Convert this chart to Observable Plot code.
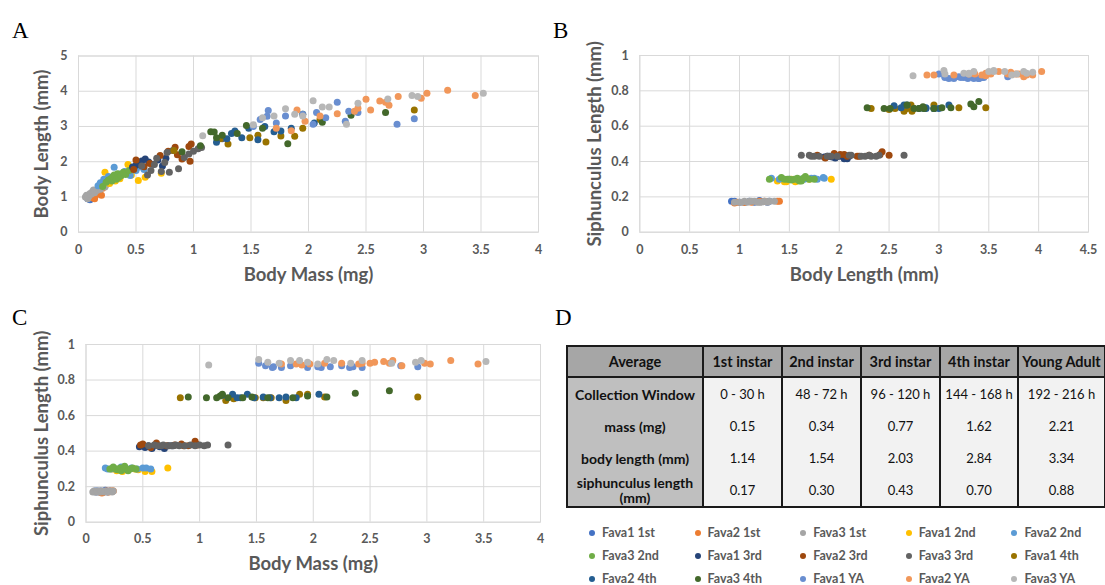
<!DOCTYPE html>
<html><head><meta charset="utf-8">
<script src="https://cdn.jsdelivr.net/npm/d3@7"></script>
<script src="https://cdn.jsdelivr.net/npm/@observablehq/plot@0.6"></script>
<style>
html,body{margin:0;padding:0;background:#fff;}
#root{position:relative;width:1105px;height:585px;overflow:hidden;font-family:Lato,"Open Sans",sans-serif;}
.panel{position:absolute;}
.panel svg{display:block;overflow:visible;}
.letter{position:absolute;font-family:"Liberation Serif","Times New Roman",serif;font-size:23px;color:#000;line-height:23px;}
#tbl{position:absolute;left:566px;top:345px;width:538px;border-collapse:collapse;table-layout:fixed;font-size:14px;color:#111;font-family:Lato,sans-serif;}
#tbl td,#tbl th{border-left:2px solid #1a1a1a;border-right:2px solid #1a1a1a;padding:0;text-align:center;vertical-align:middle;white-space:nowrap;}
#tbl th{background:#a6a6a6;height:29px;border-top:2px solid #1a1a1a;border-bottom:2px solid #1a1a1a;font-weight:700;font-size:14.5px;}
#tbl td{height:32px;}
#tbl td.lab{background:#bfbfbf;font-weight:700;}
#tbl td.val{background:#f2f2f2;font-size:13px;}
#tbl tr:last-child td{border-bottom:2px solid #1a1a1a;height:32px;}
#tbl .wrap{line-height:15px;white-space:normal;}
#legend{position:absolute;left:589px;top:521px;display:grid;grid-template-columns:repeat(5,105.6px);grid-auto-rows:23px;font-size:12.5px;font-weight:700;color:#595959;}
#legend .item{display:flex;align-items:center;white-space:nowrap;}
#legend .dot{width:6px;height:6px;border-radius:50%;margin-right:7px;flex:none;}
</style>
</head><body>
<div id="root">
  <div class="letter" style="left:12px;top:19px;">A</div>
  <div class="letter" style="left:553px;top:19px;">B</div>
  <div class="letter" style="left:12px;top:306px;">C</div>
  <div class="letter" style="left:555px;top:306px;">D</div>
  <div class="panel" id="pA" style="left:0px;top:30px;"></div>
  <div class="panel" id="pB" style="left:550px;top:30px;"></div>
  <div class="panel" id="pC" style="left:0px;top:320px;"></div>
  <table id="tbl"></table>
  <div id="legend"></div>
</div>
<script>
// ---------- series ----------
const seriesNames = ["Fava1 1st","Fava2 1st","Fava3 1st","Fava1 2nd","Fava2 2nd","Fava3 2nd","Fava1 3rd","Fava2 3rd","Fava3 3rd","Fava1 4th","Fava2 4th","Fava3 4th","Fava1 YA","Fava2 YA","Fava3 YA"];
const seriesColors = ["#4472C4","#ED7D31","#A5A5A5","#FFC000","#5B9BD5","#70AD47","#264478","#9E480E","#636363","#997300","#255E91","#43682B","#698ED0","#F1975A","#B7B7B7"];

// each point: [body mass (mg), body length (mm), siphunculus length (mm)]
const fava1_1st = [[0.08,0.95,0.175],[0.09,1.00,0.17],[0.10,0.92,0.175],[0.12,1.05,0.17],[0.13,1.10,0.175],[0.15,1.15,0.17],[0.17,1.20,0.18],[0.19,1.28,0.17],[0.21,1.30,0.175]];
const fava2_1st = [[0.12,0.98,0.17],[0.14,0.95,0.165],[0.15,1.05,0.17],[0.16,1.12,0.17],[0.18,1.20,0.175],[0.20,1.05,0.17],[0.21,1.25,0.175],[0.23,1.38,0.175],[0.24,1.40,0.175]];
const fava3_1st = [[0.06,1.00,0.17],[0.07,1.05,0.175],[0.08,0.95,0.17],[0.09,1.02,0.17],[0.10,1.10,0.175],[0.11,1.08,0.17],[0.12,1.15,0.175],[0.13,1.20,0.17],[0.14,1.12,0.175],[0.16,1.18,0.17],[0.17,1.25,0.175],[0.19,1.22,0.17],[0.21,1.30,0.175],[0.23,1.28,0.17],[0.24,1.35,0.175]];
const fava1_2nd = [[0.23,1.70,0.30],[0.27,1.38,0.29],[0.32,1.45,0.285],[0.36,1.52,0.30],[0.43,1.92,0.30],[0.46,1.62,0.295],[0.52,1.47,0.285],[0.58,1.56,0.285],[0.72,1.67,0.305]];
const fava2_2nd = [[0.17,1.32,0.305],[0.19,1.40,0.30],[0.22,1.50,0.30],[0.26,1.58,0.30],[0.31,1.84,0.31],[0.36,1.65,0.30],[0.40,1.72,0.305],[0.45,1.61,0.30],[0.50,1.75,0.305],[0.53,1.85,0.305],[0.57,1.78,0.30]];
const fava3_2nd = [[0.21,1.30,0.30],[0.24,1.42,0.31],[0.26,1.48,0.30],[0.28,1.52,0.295],[0.29,1.45,0.30],[0.30,1.58,0.305],[0.31,1.62,0.29],[0.33,1.50,0.30],[0.34,1.66,0.315],[0.35,1.55,0.30],[0.37,1.60,0.29],[0.39,1.70,0.30],[0.41,1.64,0.305],[0.44,1.75,0.30]];
const fava1_3rd = [[0.47,1.85,0.425],[0.50,1.90,0.43],[0.52,1.96,0.42],[0.55,2.02,0.43],[0.58,2.08,0.415],[0.61,1.99,0.43],[0.65,1.93,0.425],[0.69,2.05,0.415],[0.73,1.88,0.43],[0.76,2.10,0.43]];
const fava2_3rd = [[0.48,1.78,0.435],[0.50,2.05,0.44],[0.57,1.86,0.42],[0.62,1.95,0.445],[0.71,2.18,0.43],[0.78,2.30,0.435],[0.84,2.41,0.44],[0.86,2.20,0.43],[0.90,2.08,0.43],[0.96,2.43,0.455],[0.97,2.01,0.44],[0.98,2.50,0.435]];
const fava3_3rd = [[0.55,1.88,0.43],[0.60,1.62,0.435],[0.63,1.75,0.43],[0.66,1.92,0.43],[0.68,2.10,0.435],[0.72,1.72,0.43],[0.75,1.98,0.43],[0.77,2.26,0.43],[0.79,1.70,0.435],[0.82,2.32,0.43],[0.87,1.80,0.43],[0.92,2.12,0.435],[0.96,2.22,0.43],[1.00,2.30,0.435],[1.04,2.37,0.43],[1.07,2.40,0.435],[1.25,2.65,0.435]];
const fava1_4th = [[0.83,2.32,0.70],[1.23,2.65,0.685],[1.30,2.50,0.695],[1.49,2.68,0.70],[1.56,2.75,0.70],[1.63,2.56,0.70],[1.76,2.73,0.685],[1.88,2.72,0.72],[1.95,2.95,0.72],[2.10,3.20,0.705],[2.92,3.47,0.705]];
const fava2_4th = [[1.20,2.55,0.715],[1.29,2.65,0.72],[1.33,2.80,0.70],[1.36,2.87,0.70],[1.42,2.68,0.72],[1.48,2.95,0.70],[1.56,2.62,0.705],[1.62,3.00,0.70],[1.70,2.85,0.70],[1.76,2.87,0.705],[1.85,2.95,0.70],[2.05,3.10,0.72]];
const fava3_4th = [[0.90,2.28,0.705],[1.06,2.45,0.70],[1.15,2.85,0.70],[1.18,2.84,0.71],[1.20,2.68,0.72],[1.25,2.75,0.70],[1.38,2.80,0.70],[1.46,3.03,0.705],[1.60,2.95,0.70],[1.82,2.51,0.70],[1.95,3.35,0.71],[2.12,3.12,0.705],[2.37,3.32,0.725],[2.67,3.40,0.74]];
const fava1_YA = [[1.52,3.00,0.895],[1.58,3.20,0.88],[1.64,3.29,0.87],[1.65,3.45,0.875],[1.72,3.10,0.87],[1.80,3.30,0.88],[1.95,3.35,0.87],[2.04,3.06,0.875],[2.07,3.40,0.87],[2.15,3.25,0.875],[2.25,3.69,0.88],[2.32,3.15,0.87],[2.35,3.43,0.875],[2.43,3.40,0.87],[2.77,3.06,0.88],[2.92,3.22,0.875]];
const fava2_YA = [[1.72,2.95,0.89],[1.85,2.88,0.89],[1.90,3.47,0.885],[1.97,3.15,0.89],[2.10,3.30,0.895],[2.25,3.36,0.895],[2.40,3.43,0.89],[2.43,3.52,0.895],[2.50,3.77,0.895],[2.54,3.47,0.90],[2.62,3.72,0.905],[2.67,3.69,0.895],[2.70,3.60,0.91],[2.78,3.85,0.88],[2.98,3.80,0.895],[3.03,3.94,0.89],[3.21,4.03,0.91],[3.45,3.88,0.89]];
const fava3_YA = [[1.08,2.74,0.885],[1.52,3.05,0.915],[1.60,3.25,0.90],[1.70,3.30,0.895],[1.80,3.50,0.91],[1.88,3.35,0.91],[1.95,3.30,0.90],[2.04,3.73,0.89],[2.12,3.55,0.915],[2.18,3.55,0.91],[2.33,3.06,0.895],[2.43,3.66,0.91],[2.69,3.78,0.895],[2.90,3.88,0.90],[2.95,3.85,0.91],[3.52,3.94,0.905]];

const seriesData = [fava1_1st,fava2_1st,fava3_1st,fava1_2nd,fava2_2nd,fava3_2nd,fava1_3rd,fava2_3rd,fava3_3rd,fava1_4th,fava2_4th,fava3_4th,fava1_YA,fava2_YA,fava3_YA];

// ---------- axis ticks ----------
const massTicks = [0,0.5,1,1.5,2,2.5,3,3.5,4];
const bodyLengthTicksY = [0,1,2,3,4,5];
const bodyLengthTicksX = [0,0.5,1,1.5,2,2.5,3,3.5,4,4.5];
const siphTicks = [0,0.2,0.4,0.6,0.8,1];

// ---------- table ----------
const tableHeader = ["Average","1st instar","2nd instar","3rd instar","4th instar","Young Adult"];
const rowLabels = ["Collection Window","mass (mg)","body length (mm)","siphunculus length (mm)"];
const collectionWindow = ["0 - 30 h","48 - 72 h","96 - 120 h","144 - 168 h","192 - 216 h"];
const avgMass = [0.15,0.34,0.77,1.62,2.21];
const avgBodyLength = [1.14,1.54,2.03,2.84,3.34];
const avgSiph = [0.17,0.30,0.43,0.70,0.88];

// ---------- build rows ----------
const rows = seriesData.flatMap((pts, i) => pts.map(p => ({series: seriesNames[i], mass: p[0], length: p[1], siph: p[2]})));

const TXT = "#595959", GRID = "#d9d9d9";
function panel(o) {
  return Plot.plot({
    width: o.width, height: o.height,
    marginLeft: o.ml, marginRight: o.mr, marginTop: o.mt, marginBottom: o.mb,
    style: {fontFamily: "Lato, sans-serif", background: "transparent", overflow: "visible"},
    x: {domain: o.xDomain},
    y: {domain: o.yDomain},
    color: {domain: seriesNames, range: seriesColors},
    marks: [
      Plot.gridX(o.xTicks, {stroke: GRID, strokeOpacity: 1, strokeWidth: 1}),
      Plot.gridY(o.yTicks, {stroke: GRID, strokeOpacity: 1, strokeWidth: 1}),
      Plot.frame({stroke: GRID, strokeWidth: 1}),
      Plot.axisX(o.xTicks, {tickSize: 0, tickPadding: o.xPad, tickFormat: d => String(d), fontSize: 12.5, fontWeight: "bold", fill: TXT, label: null}),
      Plot.axisY(o.yTicks, {tickSize: 0, tickPadding: o.yPad, tickFormat: d => String(d), fontSize: 12.5, fontWeight: "bold", fill: TXT, label: null}),
      Plot.dot(rows, {x: o.xKey, y: o.yKey, fill: "series", r: 3.5, stroke: "none"}),
      Plot.text([o.xLabel], {frameAnchor: "bottom", textAnchor: "middle", lineAnchor: "middle", dy: o.xLabelDy, fontSize: 18.5, fontWeight: "bold", fill: TXT}),
      Plot.text([o.yLabel], {frameAnchor: "left", textAnchor: "middle", lineAnchor: "middle", rotate: -90, dx: o.yLabelDx, fontSize: 18.5, fontWeight: "bold", fill: TXT})
    ]
  });
}

document.getElementById("pA").append(panel({
  width: 550, height: 270, ml: 78, mr: 12, mt: 25.5, mb: 68.3,
  xKey: "mass", yKey: "length", xDomain: [0,4], yDomain: [0,5],
  xTicks: massTicks, yTicks: bodyLengthTicksY, xPad: 13, yPad: 11,
  xLabel: "Body Mass (mg)", yLabel: "Body Length (mm)", xLabelDy: 43.3, yLabelDx: -36
}));
document.getElementById("pB").append(panel({
  width: 555, height: 270, ml: 89.3, mr: 17, mt: 25, mb: 68.3,
  xKey: "length", yKey: "siph", xDomain: [0,4.5], yDomain: [0,1],
  xTicks: bodyLengthTicksX, yTicks: siphTicks, xPad: 13, yPad: 11,
  xLabel: "Body Length (mm)", yLabel: "Siphunculus Length (mm)", xLabelDy: 43.3, yLabelDx: -44.3
}));
document.getElementById("pC").append(panel({
  width: 550, height: 265, ml: 85.5, mr: 10, mt: 24, mb: 63.3,
  xKey: "mass", yKey: "siph", xDomain: [0,4], yDomain: [0,1],
  xTicks: massTicks, yTicks: siphTicks, xPad: 12, yPad: 11,
  xLabel: "Body Mass (mg)", yLabel: "Siphunculus Length (mm)", xLabelDy: 42.3, yLabelDx: -43.5
}));

// table
const tbl = document.getElementById("tbl");
const colW = [136,79,79,79,78,87];
tbl.innerHTML = "<colgroup>" + colW.map(w => `<col style="width:${w}px">`).join("") + "</colgroup>" +
  "<tr>" + tableHeader.map(h => `<th>${h}</th>`).join("") + "</tr>" +
  [collectionWindow, avgMass.map(v => v.toFixed(2)), avgBodyLength.map(v => v.toFixed(2)), avgSiph.map(v => v.toFixed(2))]
    .map((vals, i) => "<tr>" +
      (i === 3 ? `<td class="lab"><div class="wrap">${rowLabels[i]}</div></td>` : `<td class="lab">${rowLabels[i]}</td>`) +
      vals.map(v => `<td class="val">${v}</td>`).join("") + "</tr>").join("");

// legend
const lg = document.getElementById("legend");
seriesNames.forEach((n, i) => {
  const it = document.createElement("div");
  it.className = "item";
  it.innerHTML = `<span class="dot" style="background:${seriesColors[i]}"></span>${n}`;
  lg.append(it);
});
</script>
</body></html>
